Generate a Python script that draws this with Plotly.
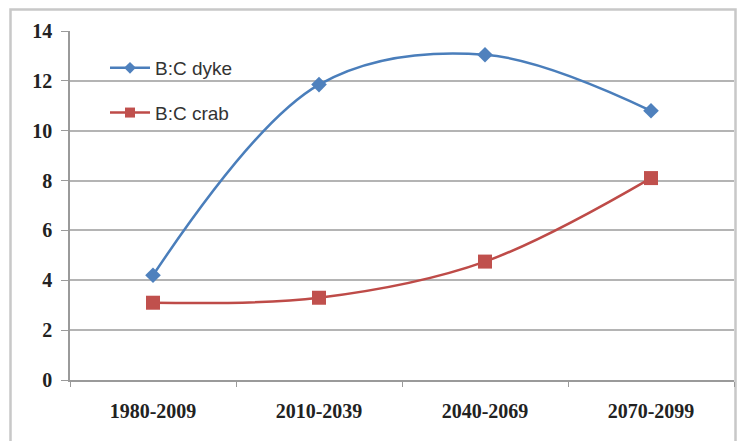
import plotly.graph_objects as go

periods = ["1980-2009", "2010-2039", "2040-2069", "2070-2099"]
bc_dyke = [4.2, 11.85, 13.05, 10.8]
bc_crab = [3.1, 3.3, 4.75, 8.1]
y_ticks = [0, 2, 4, 6, 8, 10, 12, 14]

BLUE_LINE = "#4a7ebb"
BLUE_MARK = "#4f81bd"
RED_LINE = "#be4b48"
RED_MARK = "#c0504d"

fig = go.Figure()

fig.add_trace(go.Scatter(
    x=periods, y=bc_dyke, name="B:C dyke", mode="lines+markers",
    line=dict(color=BLUE_LINE, width=2.5, shape="spline", smoothing=1.0),
    marker=dict(symbol="diamond", size=12, color=BLUE_MARK),
    showlegend=False, cliponaxis=False,
))
fig.add_trace(go.Scatter(
    x=periods, y=bc_crab, name="B:C crab", mode="lines+markers",
    line=dict(color=RED_LINE, width=2.5, shape="spline", smoothing=1.0),
    marker=dict(symbol="square", size=14, color=RED_MARK),
    showlegend=False, cliponaxis=False,
))

# legend entries with smaller markers
fig.add_trace(go.Scatter(
    x=[None], y=[None], name="B:C dyke", mode="lines+markers",
    line=dict(color=BLUE_LINE, width=2.5),
    marker=dict(symbol="diamond", size=9, color=BLUE_MARK),
    legendgroup="a",
))
fig.add_trace(go.Scatter(
    x=[None], y=[None], name="B:C crab", mode="lines+markers",
    line=dict(color=RED_LINE, width=2.5),
    marker=dict(symbol="square", size=10, color=RED_MARK),
    legendgroup="b",
))

L, R, T, B = 70, 5, 31, 61
W, H = 739, 441
pw = W - L - R
ph = H - T - B

tick_font = dict(family="Liberation Serif, Times New Roman, serif", size=20,
                 color="#222222", weight="bold")

fig.update_layout(
    width=W, height=H,
    margin=dict(l=L, r=R, t=T, b=B, pad=0),
    paper_bgcolor="white", plot_bgcolor="white",
    legend=dict(
        x=(105 - L) / pw, y=(380 - 49) / ph, xanchor="left", yanchor="top",
        font=dict(family="Liberation Sans, Arial, sans-serif", size=19, color="#333333"),
        bgcolor="rgba(0,0,0,0)", tracegroupgap=17, itemwidth=40,
    ),
    xaxis=dict(
        type="category", categoryorder="array", categoryarray=periods,
        range=[-0.5, 3.5],
        showline=True, linecolor="#9a9a9a", linewidth=1.5,
        ticks="outside", tickson="boundaries", ticklen=5, tickcolor="#9a9a9a",
        showgrid=False, ticklabelstandoff=12,
        tickfont=tick_font,
    ),
    yaxis=dict(
        range=[0, 14], tickvals=y_ticks,
        showline=True, linecolor="#9a9a9a", linewidth=1.5,
        ticks="outside", ticklen=7, tickcolor="#9a9a9a",
        showgrid=True, gridcolor="#b4b4b4", gridwidth=1.5,
        zeroline=False, ticklabelstandoff=5,
        tickfont=tick_font,
    ),
    shapes=[dict(
        type="rect", xref="paper", yref="paper",
        x0=(10.5 - L) / pw, x1=(735.5 - L) / pw,
        y0=(380 - 450) / ph, y1=(380 - 9.5) / ph,
        line=dict(color="#c8c8c8", width=2.5), fillcolor="rgba(0,0,0,0)",
        layer="below",
    )],
)

fig.write_html("out.html")
